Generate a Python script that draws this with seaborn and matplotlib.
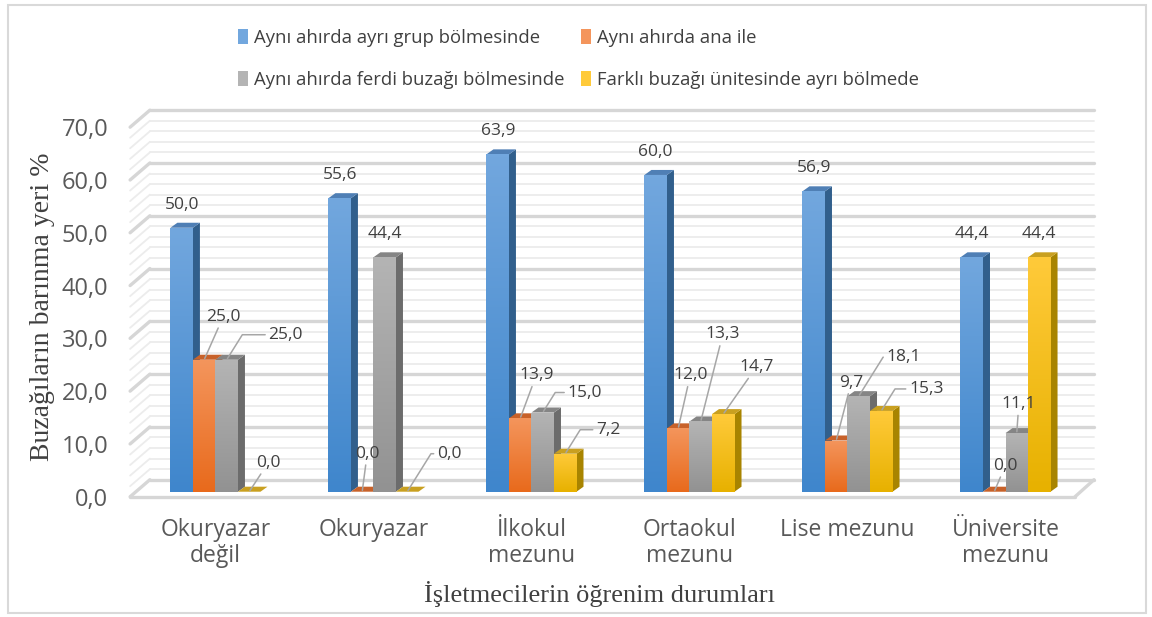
import numpy as np
import pandas as pd
import seaborn as sns
import matplotlib.pyplot as plt
from matplotlib import font_manager
from matplotlib.patches import Polygon, Patch, Rectangle
from matplotlib.colors import LinearSegmentedColormap
from matplotlib.transforms import ScaledTranslation

# data (%)
categories = ["Okuryazar\ndeğil", "Okuryazar", "İlkokul\nmezunu", "Ortaokul\nmezunu",
              "Lise mezunu", "Üniversite\nmezunu"]
series = ["Aynı ahırda ayrı grup bölmesinde", "Aynı ahırda ana ile",
          "Aynı ahırda ferdi buzağı bölmesinde", "Farklı buzağı ünitesinde ayrı bölmede"]
ayri_grup = [50.0, 55.6, 63.9, 60.0, 56.9, 44.4]
ana_ile = [25.0, 0.0, 13.9, 12.0, 9.7, 0.0]
ferdi = [25.0, 44.4, 15.0, 13.3, 18.1, 11.1]
farkli = [0.0, 0.0, 7.2, 14.7, 15.3, 44.4]

# colours: front gradient top/bottom, side face, top face
front_top = ['#72a7de', '#f4955c', '#b4b4b4', '#ffca3a']
front_bot = ['#3f86cc', '#e86a1c', '#929292', '#e7b100']
side_col = ['#315f8c', '#b9561c', '#6c6c6c', '#a88400']
top_col = ['#4f7fb5', '#c8622a', '#858585', '#c9a020']

# label callouts: (category, series) -> (dx px, dy px, elbow)
callouts = {
    (0, 1): (19, 43, False), (0, 2): (59, 25, True), (0, 3): (19, 29, False),
    (1, 1): (5, 38, False), (1, 3): (42, 38, True),
    (2, 1): (16, 43, False), (2, 2): (42, 20, True), (2, 3): (43, 24, True),
    (3, 1): (12, 53, False), (3, 2): (22, 87, False), (3, 3): (33, 47, False),
    (4, 1): (15, 58, False), (4, 2): (45, 39, True), (4, 3): (45, 22, True),
    (5, 1): (11, 26, False), (5, 2): (2, 29, False),
}

df = pd.DataFrame({
    'kategori': categories * 4,
    'seri': np.repeat(series, len(categories)),
    'deger': ayri_grup + ana_ile + ferdi + farkli,
})

sns.set_style('white')
names = {f.name for f in font_manager.fontManager.ttflist}
sans = 'Liberation Sans Narrow' if 'Liberation Sans Narrow' in names else 'Open Sans'
plt.rcParams['font.family'] = [sans, 'DejaVu Sans']

fig = plt.figure(figsize=(11.52, 6.17), dpi=100)
ax = fig.add_axes([120 / 1152, 117 / 617, 980 / 1152, 400 / 617])

sns.barplot(data=df, x='kategori', y='deger', hue='seri', order=categories,
            hue_order=series, palette=front_bot, width=0.57, saturation=1,
            errorbar=None, legend=False, ax=ax)

ax.set_xlim(-0.604, 5.598)
ax.set_ylim(-1.57, 74.2)

# 3d depth in data units
dx = 7 / 158
dy = 0.95
up_back = 2.27
down_front = 0.95

# back wall / side wall grid
for v in np.arange(0, 71, 2):
    major = v % 10 == 0
    col = '#d6d6d6' if major else '#ececec'
    lw = 2.4 if major else 1.3
    ax.plot([-0.415, 5.56], [v + up_back, v + up_back], color=col, lw=lw, zorder=0.5)
    ax.plot([-0.54, -0.415], [v - down_front, v + up_back], color=col, lw=lw, zorder=0.5)
# floor front edge
ax.plot([-0.54, 5.44], [-down_front, -down_front], color='#d6d6d6', lw=2.4, zorder=0.6)
ax.plot([5.44, 5.56], [-down_front, up_back], color='#d6d6d6', lw=2.4, zorder=0.6)

for i, cont in enumerate(ax.containers):
    cmap = LinearSegmentedColormap.from_list('g%d' % i, [front_bot[i], front_top[i]])
    for j, p in enumerate(cont.patches):
        x0 = p.get_x()
        w = p.get_width()
        h = p.get_height()
        x1 = x0 + w
        zf = 3 + 2 * i + 1
        zs = 3 + 2 * i
        p.set_zorder(zf)
        p.set_edgecolor('none')
        side = Polygon([(x1, 0), (x1 + dx, dy), (x1 + dx, h + dy), (x1, h)],
                       closed=True, facecolor=side_col[i], edgecolor='none', zorder=zs)
        top = Polygon([(x0, h), (x0 + dx, h + dy), (x1 + dx, h + dy), (x1, h)],
                      closed=True, facecolor=top_col[i], edgecolor='none', zorder=zs + 0.9)
        ax.add_patch(side)
        ax.add_patch(top)
        if h > 0:
            grad = np.linspace(0, 1, 100).reshape(-1, 1)
            im = ax.imshow(grad, extent=[x0, x1, 0, h], origin='lower', cmap=cmap,
                           aspect='auto', zorder=zf + 0.1, interpolation='bilinear')
            im.set_clip_path(p)

        label = f"{h:.1f}".replace('.', ',')
        cx = x0 + w / 2
        if (j, i) in callouts:
            ox, oy, elbow = callouts[(j, i)]
            if elbow:
                props = dict(arrowstyle='-', color='#a6a6a6', lw=1.1, shrinkA=0, shrinkB=1,
                             relpos=(0, 0.5), connectionstyle='angle,angleA=0,angleB=58,rad=0')
            else:
                props = dict(arrowstyle='-', color='#a6a6a6', lw=1.1, shrinkA=0, shrinkB=1)
            ax.annotate(label, xy=(cx, h), xytext=(ox, oy), textcoords='offset pixels',
                        ha='center', va='center', fontsize=12.5, color='#404040',
                        arrowprops=props, zorder=20)
        else:
            ax.annotate(label, xy=(cx, h), xytext=(0, 23), textcoords='offset pixels',
                        ha='center', va='center', fontsize=12.5, color='#404040', zorder=20)

ax.autoscale(False)
ax.set_xlim(-0.604, 5.598)
ax.set_ylim(-1.57, 74.2)

yt = np.arange(0, 71, 10)
ax.set_yticks(yt)
ax.set_yticklabels([f"{t:.1f}".replace('.', ',') for t in yt])
ax.set_xticks(range(len(categories)))
ax.set_xticklabels(categories, linespacing=1.1)
ax.tick_params(axis='y', length=0, pad=8.5, labelsize=17, labelcolor='#595959')
ax.tick_params(axis='x', length=0, pad=13, labelsize=16.5, labelcolor='#595959')
shift = ScaledTranslation(0, -5 / 100, fig.dpi_scale_trans)
for lab in ax.get_yticklabels():
    lab.set_transform(lab.get_transform() + shift)
ax.set_xlabel('')
ax.set_ylabel('')
for s in ax.spines.values():
    s.set_visible(False)
ax.grid(False)

fig.text(43 / 1152, 1 - 307 / 617, 'Buzağıların barınma yeri %', rotation=90,
         ha='center', va='center', fontsize=20, family='Liberation Serif', color='#404040')
fig.text(600 / 1152, 1 - 594 / 617, 'İşletmecilerin öğrenim durumları',
         ha='center', va='center', fontsize=19, family='Liberation Serif', color='#404040')

handles = [Patch(facecolor=front_top[k], edgecolor='none') for k in [0, 2, 1, 3]]
labels = [series[k] for k in [0, 2, 1, 3]]
fig.legend(handles, labels, ncol=2, loc='upper left', bbox_to_anchor=(238 / 1152, 1 - 29 / 617),
           frameon=False, borderaxespad=0, borderpad=0, handlelength=0.55, handleheight=0.85,
           handletextpad=0.3, columnspacing=0.9, labelspacing=1.3, fontsize=13.3,
           labelcolor='#404040')

fig.patches.append(Rectangle((8 / 1152, 4 / 617), 1138 / 1152, 608 / 617, transform=fig.transFigure,
                             fill=False, edgecolor='#d9d9d9', lw=1.5))

fig.savefig('out.png', dpi=100)
